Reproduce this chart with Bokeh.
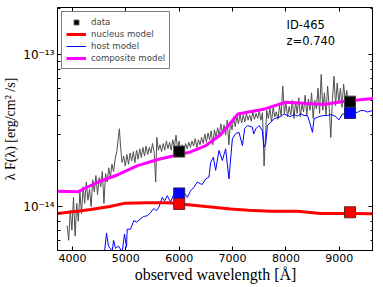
from bokeh.plotting import figure
from bokeh.models import (Range1d, FixedTicker, LinearAxis, LogAxis, Legend, LegendItem,
                          Label, CustomJSTickFormatter)
from bokeh.embed import file_html
from bokeh.resources import INLINE

UNIT = 1e-14  # fluxes below are in units of 1e-14 erg/cm^2/s

# observed spectrum (grey)
spec_wl = [3900, 3930, 3960, 3990, 4020, 4050, 4080, 4110, 4140, 4170, 4200, 4230, 4260, 4290,
           4320, 4350, 4380, 4410, 4440, 4470, 4500, 4530, 4560, 4590, 4620, 4650, 4680, 4710,
           4740, 4770, 4800, 4830, 4860, 4880, 4900, 4930, 4960, 4990, 5020, 5050, 5080, 5110,
           5140, 5170, 5200, 5230, 5260, 5290, 5320, 5350, 5380, 5410, 5440, 5470, 5500, 5530,
           5560, 5580, 5610, 5640, 5670, 5700, 5730, 5760, 5790, 5820, 5850, 5880, 5910, 5940,
           5970, 6000, 6030, 6060, 6090, 6120, 6150, 6180, 6210, 6240, 6270, 6300, 6330, 6360,
           6390, 6420, 6450, 6480, 6510, 6540, 6570, 6600, 6630, 6660, 6690, 6720, 6750, 6780,
           6810, 6840, 6870, 6900, 6930, 6960, 6990, 7020, 7050, 7080, 7110, 7140, 7170, 7200,
           7230, 7260, 7290, 7320, 7350, 7380, 7410, 7440, 7470, 7500, 7530, 7560, 7590, 7610,
           7640, 7670, 7700, 7730, 7760, 7790, 7820, 7850, 7880, 7910, 7940, 7970, 8000, 8030,
           8060, 8090, 8120, 8150, 8180, 8210, 8240, 8270, 8300, 8330, 8360, 8390, 8420, 8450,
           8480, 8510, 8540, 8570, 8600, 8630, 8660, 8690, 8720, 8750, 8780, 8810, 8840, 8870,
           8900, 8930, 8960, 8990, 9020, 9050, 9080, 9110, 9140, 9160]
spec_flux = [0.75, 0.60, 0.95, 0.70, 1.15, 0.64, 1.05, 0.80, 1.25, 0.90, 1.35, 1.05, 1.45, 1.10,
             1.30, 1.00, 1.50, 1.25, 1.60, 1.20, 1.55, 1.35, 1.70, 1.05, 1.65, 1.45, 1.80, 1.55,
             1.90, 1.70, 2.05, 2.30, 2.85, 3.25, 2.50, 1.95, 2.15, 1.85, 2.20, 1.90, 2.25, 2.00,
             2.30, 1.95, 2.35, 2.05, 2.40, 2.10, 2.45, 2.15, 2.50, 2.20, 2.45, 2.25, 2.60, 2.30,
             1.45, 2.85, 2.35, 2.55, 2.30, 2.60, 2.35, 2.70, 2.40, 2.65, 2.35, 2.75, 2.45, 2.95,
             2.40, 2.70, 2.30, 2.55, 2.35, 2.60, 2.40, 2.65, 2.45, 2.70, 2.50, 2.80, 2.45, 2.75,
             2.55, 2.85, 2.60, 3.00, 2.65, 3.05, 2.75, 3.15, 2.55, 3.20, 2.85, 3.30, 2.90, 3.50,
             3.00, 3.45, 2.95, 3.70, 2.55, 3.60, 3.20, 3.90, 3.35, 3.95, 3.50, 4.05, 3.55, 4.00,
             3.60, 4.10, 3.70, 4.00, 3.65, 4.20, 3.75, 4.10, 3.80, 4.25, 3.70, 4.15, 1.85, 2.60,
             4.30, 3.80, 4.45, 3.60, 4.50, 3.90, 4.20, 3.75, 4.60, 3.95, 6.20, 4.10, 4.80, 3.90,
             4.55, 4.00, 5.00, 3.80, 4.90, 4.10, 5.20, 3.90, 4.70, 4.20, 5.40, 4.00, 5.10, 4.30,
             5.60, 3.80, 5.00, 4.40, 6.00, 4.10, 7.40, 4.30, 5.60, 4.00, 6.20, 4.50, 2.85, 5.00,
             7.20, 4.60, 6.50, 4.80, 6.00, 4.50, 6.40, 5.00, 5.80, 4.90]

# host model (blue)
host_wl = [4600, 4638, 4675, 4745, 4770, 4807, 4863, 4932, 4975, 5013, 5026, 5088, 5150, 5200,
           5276, 5332, 5401, 5463, 5520, 5576, 5619, 5683, 5726, 5777, 5838, 5900, 6026, 6082,
           6152, 6214, 6276, 6340, 6401, 6433, 6495, 6557, 6589, 6640, 6683, 6745, 6808, 6870,
           6932, 6996, 7058, 7120, 7184, 7227, 7277, 7371, 7395, 7433, 7495, 7558, 7589, 7621,
           7652, 7714, 7776, 7839, 7902, 7964, 8027, 8089, 8152, 8215, 8277, 8340, 8403, 8446,
           8496, 8526, 8590, 8652, 8714, 8777, 8840, 8902, 8952, 8995, 9059, 9120, 9215, 9340,
           9402, 9465, 9527, 9590, 9653]
host_flux = [0.50, 0.67, 0.55, 0.51, 0.60, 0.53, 0.55, 0.50, 0.66, 0.54, 0.71, 0.71, 0.81, 0.79,
             0.83, 0.86, 0.87, 0.91, 0.97, 0.94, 0.99, 1.15, 1.09, 1.18, 1.07, 1.21, 1.21, 1.25,
             1.15, 1.27, 1.34, 1.45, 1.41, 1.40, 1.52, 1.56, 1.95, 2.11, 1.73, 2.34, 2.01, 2.40,
             1.52, 2.79, 3.02, 3.08, 2.52, 3.26, 3.41, 3.33, 3.00, 3.24, 3.41, 3.16, 2.46, 2.59,
             3.41, 3.59, 3.78, 3.85, 3.91, 4.07, 3.97, 3.91, 4.03, 3.94, 4.07, 3.97, 3.97, 3.57,
             3.08, 3.78, 3.87, 3.94, 3.97, 3.97, 4.03, 3.97, 3.85, 3.72, 4.07, 4.03, 4.12, 4.17,
             4.28, 4.28, 4.19, 4.26, 4.24]

# nucleus model (red)
nuc_wl = [3700, 4100, 4340, 4700, 4970, 5400, 5800, 6025, 6500, 6964, 7300, 7715, 8215, 8650,
          9200, 9660]
nuc_flux = [0.90, 0.93, 0.955, 1.00, 1.05, 1.06, 1.06, 1.04, 1.00, 0.965, 0.945, 0.93, 0.93,
            0.90, 0.90, 0.895]

# composite model (magenta)
comp_wl = [3700, 4100, 4470, 4850, 5220, 5600, 6000, 6200, 6500, 6780, 7100, 7600, 8000, 8400,
           8700, 9100, 9660]
comp_flux = [1.26, 1.25, 1.445, 1.62, 1.86, 2.04, 2.20, 2.28, 2.52, 2.98, 4.06, 4.39, 4.86,
             4.76, 4.69, 4.93, 5.16]

# photometric points
phot_wl = [6000, 9200]
data_flux = [2.30, 4.90]
host_phot = [1.22, 4.13]
nuc_phot = [1.04, 0.917]

x_ticks = [4000, 5000, 6000, 7000, 8000, 9000]
y_major = [1e-14, 1e-13]
y_minor = [6e-15, 7e-15, 8e-15, 9e-15, 2e-14, 3e-14, 4e-14, 5e-14, 6e-14, 7e-14, 8e-14,
           9e-14, 2e-13]

def sc(vals):
    return [v * UNIT for v in vals]

p = figure(frame_width=316, frame_height=243, x_range=Range1d(3720, 9640),
           y_range=Range1d(5.14e-15, 2.04e-13), y_axis_type="log",
           output_backend="svg", toolbar_location=None,
           min_border_left=49, min_border_right=0, min_border_top=7, min_border_bottom=30)
p.xgrid.visible = False
p.ygrid.visible = False
p.outline_line_color = "black"
p.outline_line_width = 1
p.background_fill_color = "white"
p.border_fill_color = "white"

sup = CustomJSTickFormatter(code="""
const e = Math.round(Math.log10(tick));
const m = {'-':'\u207b','0':'\u2070','1':'\u00b9','2':'\u00b2','3':'\u00b3','4':'\u2074',
           '5':'\u2075','6':'\u2076','7':'\u2077','8':'\u2078','9':'\u2079'};
return '10' + String(e).split('').map(c => m[c]).join('');
""")

xa = p.xaxis[0]
xa.ticker = FixedTicker(ticks=x_ticks)
xa.major_tick_in = 4
xa.major_tick_out = 0
xa.minor_tick_in = 0
xa.minor_tick_out = 0
xa.axis_line_color = "black"
xa.major_label_text_font = "DejaVu Sans"
xa.major_label_text_font_size = "11px"
xa.major_label_text_color = "black"
xa.major_label_standoff = 3
xa.axis_label = "observed wavelength [Å]"
xa.axis_label_text_font = "Liberation Serif"
xa.axis_label_text_font_style = "normal"
xa.axis_label_text_font_size = "16px"
xa.axis_label_text_color = "black"
xa.axis_label_standoff = 1

ya = p.yaxis[0]
ya.ticker = FixedTicker(ticks=y_major, minor_ticks=y_minor)
ya.formatter = sup
ya.major_tick_in = 5
ya.major_tick_out = 0
ya.minor_tick_in = 3
ya.minor_tick_out = 0
ya.axis_line_color = "black"
ya.major_label_text_font = "DejaVu Sans"
ya.major_label_text_font_size = "12px"
ya.major_label_text_color = "black"
ya.major_label_standoff = 3
ya.axis_label = "λ F(λ) [erg/cm² /s]"
ya.axis_label_text_font = "Liberation Serif"
ya.axis_label_text_font_style = "normal"
ya.axis_label_text_font_size = "14px"
ya.axis_label_text_color = "black"
ya.axis_label_standoff = 2

top = LinearAxis(ticker=FixedTicker(ticks=x_ticks), major_tick_in=4, major_tick_out=0,
                 minor_tick_in=0, minor_tick_out=0, major_label_text_font_size="1px",
                 major_label_text_color=None, major_label_standoff=0, axis_label_standoff=0,
                 axis_line_color=None)
p.add_layout(top, "above")
right = LogAxis(ticker=FixedTicker(ticks=y_major, minor_ticks=y_minor), major_tick_in=5,
                major_tick_out=0, minor_tick_in=3, minor_tick_out=0,
                major_label_text_font_size="1px", major_label_text_color=None,
                major_label_standoff=0, axis_label_standoff=0, axis_line_color=None)
p.add_layout(right, "right")

p.line(spec_wl, sc(spec_flux), line_color="#505050", line_width=1)
r_host = p.line(host_wl, sc(host_flux), line_color="#0000ff", line_width=1)
r_nuc = p.line(nuc_wl, sc(nuc_flux), line_color="#ff0000", line_width=3)
r_comp = p.line(comp_wl, sc(comp_flux), line_color="#ff00ff", line_width=3)
r_data = p.scatter(phot_wl, sc(data_flux), marker="square", size=11, fill_color="black",
                   line_color="#444444", line_width=1)
p.scatter(phot_wl, sc(host_phot), marker="square", size=11, fill_color="#0000ff",
          line_color="#222266", line_width=1)
p.scatter(phot_wl, sc(nuc_phot), marker="square", size=11, fill_color="#ff0000",
          line_color="#662222", line_width=1)

legend = Legend(items=[LegendItem(label="data", renderers=[r_data]),
                       LegendItem(label="nucleus model", renderers=[r_nuc]),
                       LegendItem(label="host model", renderers=[r_host]),
                       LegendItem(label="composite model", renderers=[r_comp])],
                location="top_left")
legend.margin = 4
legend.padding = 4
legend.spacing = 0
legend.label_height = 12
legend.glyph_height = 12
legend.glyph_width = 20
legend.label_standoff = 5
legend.label_text_font = "DejaVu Sans"
legend.label_text_font_size = "8.6px"
legend.label_text_line_height = 1.4
legend.border_line_color = "black"
legend.border_line_width = 1
legend.background_fill_alpha = 1
p.add_layout(legend)

p.add_layout(Label(x=8010, y=1.73e-13, text="ID-465", text_font="DejaVu Sans",
                   text_font_size="11.5px", text_color="black", text_baseline="top",
                   text_align="left"))
p.add_layout(Label(x=8010, y=1.36e-13, text="z=0.740", text_font="DejaVu Sans",
                   text_font_size="11.5px", text_color="black", text_baseline="top",
                   text_align="left"))

open("out.html", "w").write(file_html(p, INLINE))
